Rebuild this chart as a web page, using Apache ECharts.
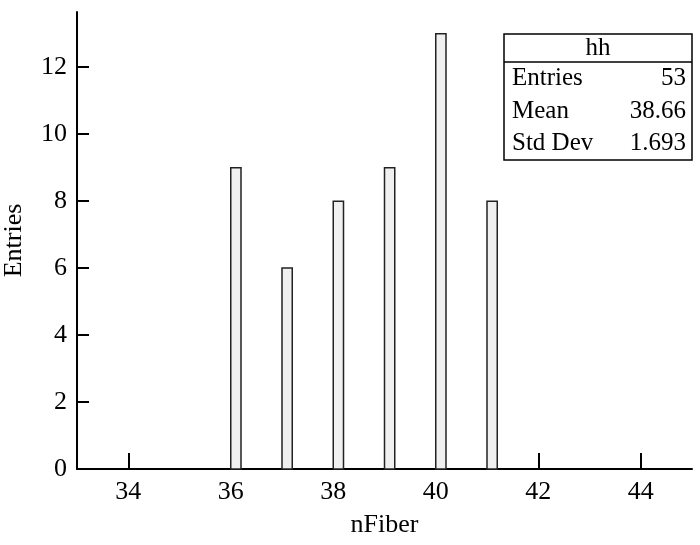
<!DOCTYPE html>
<html>
<head>
<meta charset="utf-8">
<script src="https://cdn.jsdelivr.net/npm/echarts@6/dist/echarts.min.js"></script>
<style>
  html, body { margin: 0; padding: 0; background: #fff; }
  #chart { width: 700px; height: 545px; }
</style>
</head>
<body>
<div id="chart"></div>
<script>
// histogram bins (low edge, bin width 0.2) and their counts
const binLow = [36, 37, 38, 39, 40, 41];
const binWidth = 0.2;
const counts = [9, 6, 8, 9, 13, 8];
const xTicks = [34, 36, 38, 40, 42, 44];
const yTicks = [0, 2, 4, 6, 8, 10, 12];
const statsTitle = 'hh';
const statsLabels = ['Entries', 'Mean', 'Std Dev'];
const statsValues = ['53', '38.66', '1.693'];

const font = '"Liberation Serif", "DejaVu Serif", serif';
const axisColor = '#000';

const chart = echarts.init(document.getElementById('chart'));

const statsGraphic = [
  {
    type: 'rect',
    shape: { x: 504, y: 34, width: 188, height: 126 },
    style: { fill: '#fff', stroke: '#000', lineWidth: 1.5 },
    z: 100
  },
  {
    type: 'line',
    shape: { x1: 504, y1: 62, x2: 692, y2: 62 },
    style: { stroke: '#000', lineWidth: 1.5 },
    z: 101
  },
  {
    type: 'text',
    x: 598,
    y: 48,
    style: { text: statsTitle, font: '25px ' + font, fill: '#000', align: 'center', verticalAlign: 'middle' },
    z: 101
  }
];
const rowY = [78, 111, 143];
statsLabels.forEach((label, i) => {
  statsGraphic.push({
    type: 'text',
    x: 512,
    y: rowY[i],
    style: { text: label, font: '25px ' + font, fill: '#000', align: 'left', verticalAlign: 'middle' },
    z: 101
  });
  statsGraphic.push({
    type: 'text',
    x: 686,
    y: rowY[i],
    style: { text: statsValues[i], font: '25px ' + font, fill: '#000', align: 'right', verticalAlign: 'middle' },
    z: 101
  });
});

const option = {
  animation: false,
  backgroundColor: '#fff',
  grid: { left: 77, right: 8, top: 12, bottom: 76, containLabel: false, outerBoundsMode: 'none' },
  xAxis: {
    type: 'value',
    min: 33,
    max: 45,
    name: 'nFiber',
    nameLocation: 'middle',
    nameGap: 43,
    nameTextStyle: { fontFamily: font, fontSize: 26, color: '#000' },
    axisLine: { show: true, lineStyle: { color: axisColor, width: 2 } },
    axisTick: { show: true, inside: true, length: 16, customValues: xTicks, lineStyle: { color: axisColor, width: 2 } },
    axisLabel: { customValues: xTicks, margin: 10, fontFamily: font, fontSize: 26, color: '#000' },
    splitLine: { show: false }
  },
  yAxis: {
    type: 'value',
    min: 0,
    max: 13.65,
    name: 'Entries',
    nameLocation: 'middle',
    nameGap: 50,
    nameTextStyle: { fontFamily: font, fontSize: 26, color: '#000' },
    axisLine: { show: true, lineStyle: { color: axisColor, width: 2 } },
    axisTick: { show: true, inside: true, length: 12, customValues: yTicks, lineStyle: { color: axisColor, width: 2 } },
    axisLabel: { customValues: yTicks, margin: 10, fontFamily: font, fontSize: 26, color: '#000' },
    splitLine: { show: false }
  },
  series: [
    {
      type: 'custom',
      data: binLow.map((low, i) => [low, low + binWidth, counts[i]]),
      encode: { x: [0, 1], y: 2 },
      renderItem(params, api) {
        const p0 = api.coord([api.value(0), api.value(2)]);
        const p1 = api.coord([api.value(1), 0]);
        return {
          type: 'rect',
          shape: { x: p0[0], y: p0[1], width: p1[0] - p0[0], height: p1[1] - p0[1] },
          style: { fill: '#f0f0f0', stroke: '#222', lineWidth: 1.5 }
        };
      }
    }
  ],
  graphic: statsGraphic
};

chart.setOption(option);
</script>
</body>
</html>
